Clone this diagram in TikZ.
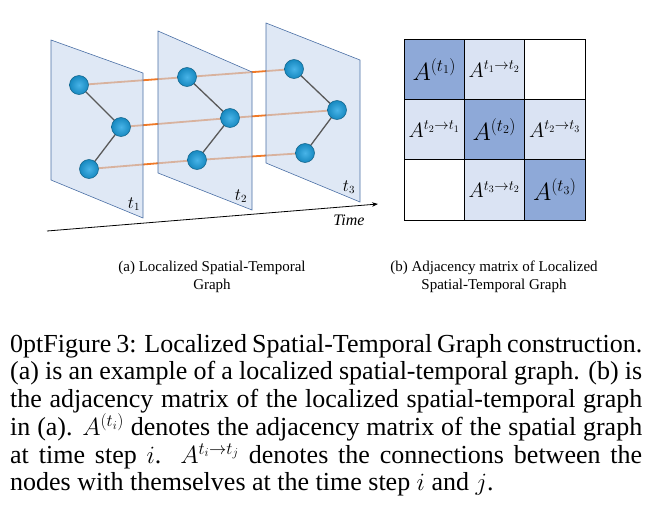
\documentclass[tikz,border=0pt]{standalone}
\usepackage{fontspec}
\setmainfont{Liberation Serif}
\usetikzlibrary{arrows.meta}
\definecolor{plane}{HTML}{C9D8EE}
\definecolor{planeb}{HTML}{4A6FA5}
\definecolor{nodeb}{HTML}{1BA1E2}
\definecolor{dark}{HTML}{8EA9D8}
\definecolor{light}{HTML}{DAE3F3}
\definecolor{org}{HTML}{F07A28}
\begin{document}
\begin{tikzpicture}[x=1pt,y=-1pt,
  pl/.style={fill=plane,fill opacity=0.6,draw=planeb,draw opacity=1,line width=0.6pt},
  gn/.style={circle,minimum size=19pt,inner sep=0pt,draw=nodeb!60!black,line width=0.5pt,inner color=nodeb!80!white,outer color=nodeb!85!black},
  te/.style={org,line width=1.8pt},
  se/.style={gray!70!black,line width=1.3pt},
  cell/.style={draw=black,line width=0.6pt,minimum width=60pt,minimum height=60pt,inner sep=0pt,anchor=north west},
  big/.style={font=\fontsize{23}{23}\selectfont},
  sml/.style={font=\fontsize{20}{20}\selectfont}]
\useasboundingbox (0,0) rectangle (656,514);
\coordinate (p1a) at (79,85); \coordinate (p1b) at (121,127); \coordinate (p1c) at (89,169);
\coordinate (p2a) at (187,77); \coordinate (p2b) at (230,118); \coordinate (p2c) at (197,160);
\coordinate (p3a) at (294,69); \coordinate (p3b) at (337,110); \coordinate (p3c) at (305,153);
\draw[te] (p1a) -- (p2a) -- (p3a);
\draw[te] (p1b) -- (p2b) -- (p3b);
\draw[te] (p1c) -- (p2c) -- (p3c);
\draw[pl] (51,40) -- (143,73) -- (143,218) -- (51,180) -- cycle;
\draw[pl] (158,31) -- (252,72) -- (252,210) -- (158,173) -- cycle;
\draw[pl] (266,23) -- (360,60) -- (360,202) -- (266,163) -- cycle;
\draw[se] (p1a) -- (p1b) -- (p1c);
\draw[se] (p2a) -- (p2b) -- (p2c);
\draw[se] (p3a) -- (p3b) -- (p3c);
\foreach \n in {p1a,p1b,p1c,p2a,p2b,p2c,p3a,p3b,p3c}{\node[gn] (N\n) at (\n) {};}
\node (l1) at (134,204) {\fontsize{16}{16}\selectfont$t_1$};
\node (l2) at (241,196) {\fontsize{16}{16}\selectfont$t_2$};
\node (l3) at (349,187) {\fontsize{16}{16}\selectfont$t_3$};
\coordinate (ts) at (47,231); \coordinate (te) at (378,204);
\draw[-{Stealth[length=6pt]},line width=0.8pt] (ts) -- (te);
\node (time) at (349,220) {\fontsize{16}{16}\selectfont\itshape Time};
\node[cell,fill=dark] (m11) at (404,39) {}; \node[cell,fill=light] (m12) at (464,39) {}; \node[cell,minimum width=61pt] (m13) at (524,39) {};
\node[cell,fill=light] (m21) at (404,99) {}; \node[cell,fill=dark] (m22) at (464,99) {}; \node[cell,fill=light,minimum width=61pt] (m23) at (524,99) {};
\node[cell,minimum height=61pt] (m31) at (404,159) {}; \node[cell,fill=light,minimum height=61pt] (m32) at (464,159) {}; \node[cell,fill=dark,minimum width=61pt,minimum height=61pt] (m33) at (524,159) {};
\node[big,inner sep=0pt] (a11) at (m11.center) {$A^{(t_1)}$};
\node[sml,inner sep=0pt] (a12) at (m12.center) {$A^{t_1\to t_2}$};
\node[sml,inner sep=0pt] (a21) at (m21.center) {$A^{t_2\to t_1}$};
\node[big,inner sep=0pt] (a22) at (m22.center) {$A^{(t_2)}$};
\node[sml,inner sep=0pt] (a23) at (m23.center) {$A^{t_2\to t_3}$};
\node[sml,inner sep=0pt] (a32) at (m32.center) {$A^{t_3\to t_2}$};
\node[big,inner sep=0pt] (a33) at (m33.center) {$A^{(t_3)}$};
\node[align=center,font=\fontsize{15}{18}\selectfont] (ca) at (212,277) {(a) Localized Spatial-Temporal\\Graph};
\node[align=center,font=\fontsize{15}{18}\selectfont] (cb) at (494,277) {(b) Adjacency matrix of Localized\\Spatial-Temporal Graph};
\node[anchor=north west,inner sep=0pt,text width=632pt,align=justify,font=\fontsize{26}{27.4}\selectfont\lineskiplimit=-10pt] (cap) at (10,334)
{Figure 3: Localized Spatial-Temporal Graph construction. (a) is an example of a localized spatial-temporal graph. (b) is the adjacency matrix of the localized spatial-temporal graph in (a). $A^{(t_i)}$ denotes the adjacency matrix of the spatial graph\linebreak at time step $i$. $A^{t_i\to t_j}$ denotes the connections between the nodes with themselves at the time step $i$ and $j$.};
\end{tikzpicture}
\end{document}
